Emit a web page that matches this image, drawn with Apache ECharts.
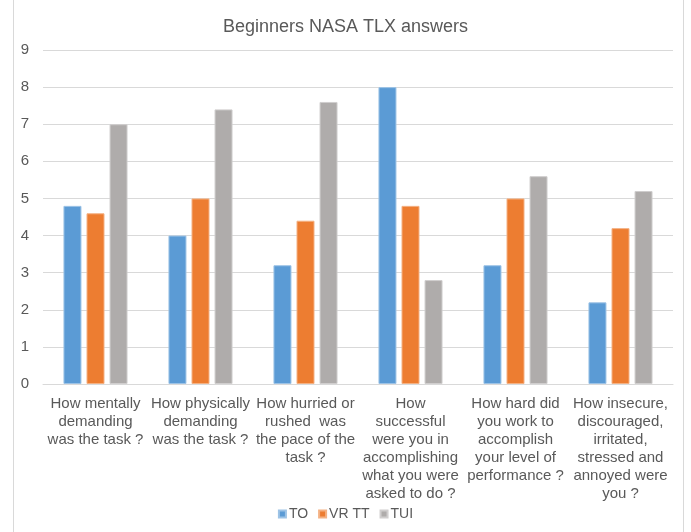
<!DOCTYPE html>
<html>
<head>
<meta charset="utf-8">
<script src="https://cdn.jsdelivr.net/npm/echarts@6/dist/echarts.min.js"></script>
<style>
  html, body { margin: 0; padding: 0; background: #fff; }
  #chart { width: 691px; height: 532px; }
</style>
</head>
<body>
<div id="chart"></div>
<script>
  var categories = [
    'How mentally\ndemanding\nwas the task ?',
    'How physically\ndemanding\nwas the task ?',
    'How hurried or\nrushed  was\nthe pace of the\ntask ?',
    'How\nsuccessful\nwere you in\naccomplishing\nwhat you were\nasked to do ?',
    'How hard did\nyou work to\naccomplish\nyour level of\nperformance ?',
    'How insecure,\ndiscouraged,\nirritated,\nstressed and\nannoyed were\nyou ?'
  ]
  var toValues = [4.8, 4.0, 3.2, 8.0, 3.2, 2.2]
  var vrttValues = [4.6, 5.0, 4.4, 4.8, 5.0, 4.2]
  var tuiValues = [7.0, 7.4, 7.6, 2.8, 5.6, 5.2]

  var colors = ['#5B9BD5', '#ED7D31', '#AFACAB']
  var borders = ['#9DC3E6', '#F4B183', '#D0CECE']

  function barSeries(name, data, i) {
    return {
      name: name,
      type: 'bar',
      data: data,
      barWidth: 18,
      barGap: '28%',
      itemStyle: { color: colors[i], borderColor: borders[i], borderWidth: 1 }
    }
  }

  var chart = echarts.init(document.getElementById('chart'))
  chart.setOption({
    animation: false,
    color: colors,
    textStyle: { fontFamily: 'Liberation Sans, Arial, sans-serif' },
    title: {
      text: 'Beginners NASA TLX answers',
      left: 'center',
      top: 13,
      textStyle: { color: '#595959', fontSize: 18, fontWeight: 'normal' }
    },
    legend: {
      bottom: 6,
      left: 'center',
      itemWidth: 7,
      itemHeight: 7,
      itemGap: 10,
      icon: 'rect',
      textStyle: { color: '#595959', fontSize: 14, padding: [0, 0, 0, -2] },
      data: ['TO', 'VR TT', 'TUI']
    },
    grid: { left: 43, right: 18, top: 50, bottom: 148 },
    xAxis: {
      type: 'category',
      data: categories,
      axisTick: { show: false },
      axisLine: { lineStyle: { color: '#D9D9D9' } },
      axisLabel: {
        interval: 0,
        color: '#595959',
        fontSize: 15,
        lineHeight: 18,
        margin: 11
      }
    },
    yAxis: {
      type: 'value',
      min: 0,
      max: 9,
      interval: 1,
      axisLine: { show: false },
      axisTick: { show: false },
      splitLine: { lineStyle: { color: '#D9D9D9' } },
      axisLabel: { color: '#595959', fontSize: 15, margin: 14 }
    },
    graphic: [
      { type: 'line', shape: { x1: 13.5, y1: 0, x2: 13.5, y2: 532 }, style: { stroke: '#D9D9D9', lineWidth: 1 } },
      { type: 'line', shape: { x1: 683.5, y1: 0, x2: 683.5, y2: 532 }, style: { stroke: '#D9D9D9', lineWidth: 1 } }
    ],
    series: [
      barSeries('TO', toValues, 0),
      barSeries('VR TT', vrttValues, 1),
      barSeries('TUI', tuiValues, 2)
    ]
  })
</script>
</body>
</html>
